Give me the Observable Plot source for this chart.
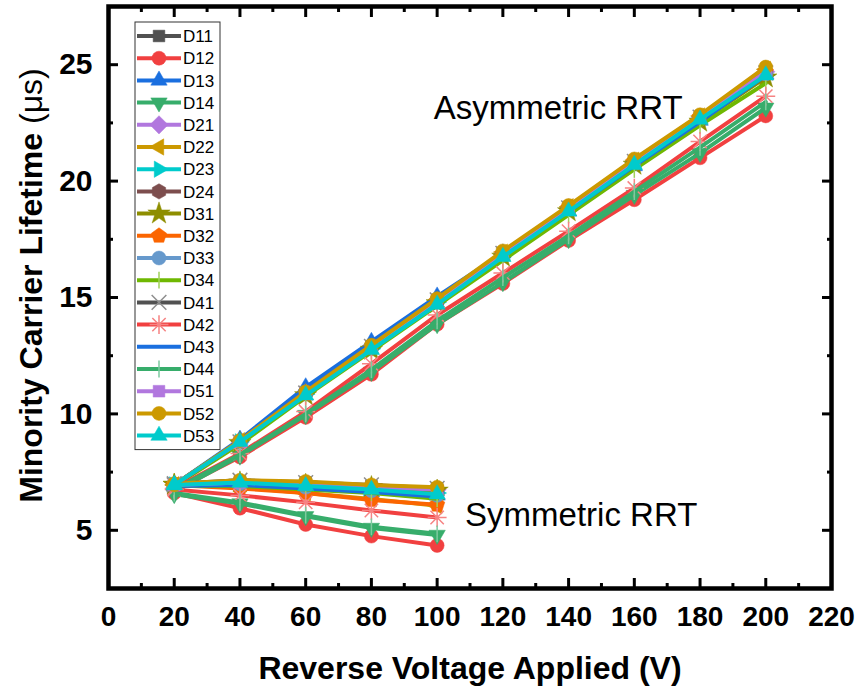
<!DOCTYPE html>
<html>
<head>
<meta charset="utf-8">
<script src="https://cdn.jsdelivr.net/npm/d3@7"></script>
<script src="https://cdn.jsdelivr.net/npm/@observablehq/plot@0.6"></script>
<style>
  body { margin: 0; background: #fff; }
  #chart svg { display: block; }
</style>
</head>
<body>
<div id="chart"></div>
<script>
// Minority carrier lifetime vs reverse voltage for 19 devices,
// measured with asymmetric (20–200 V) and symmetric (20–100 V) RRT.
const devices = ["D11","D12","D13","D14","D21","D22","D23","D24","D31","D32",
                 "D33","D34","D41","D42","D43","D44","D51","D52","D53"];
const deviceColors = ["#515151","#F14040","#1A6FDF","#37AD6B","#B177DE","#CC9900",
                      "#00CBCC","#7D4E4E","#8E8E00","#FB6501","#6699CC","#6FB802",
                      "#515151","#F14040","#1A6FDF","#37AD6B","#B177DE","#CC9900","#00CBCC"];
const deviceMarkers = ["square","circle","triangle","triangleDown","diamond","triangleLeft",
                       "triangleRight","hexagon","star","pentagon","circle","bar",
                       "times","asterisk","none","bar","square","circle","triangle"];

const voltsAsym = [20, 40, 60, 80, 100, 120, 140, 160, 180, 200];
const voltsSym = [20, 40, 60, 80, 100];

// Asymmetric RRT lifetimes (µs)
const asymD11 = [6.95, 8.80, 10.90, 12.90, 14.90, 16.90, 18.85, 20.80, 22.70, 24.60];
const asymD12 = [6.70, 8.15, 9.85, 11.70, 13.85, 15.60, 17.45, 19.20, 21.00, 22.80];
const asymD13 = [6.95, 8.90, 11.15, 13.10, 15.05, 16.90, 18.70, 20.65, 22.60, 24.60];
const asymD14 = [6.65, 8.20, 9.95, 11.80, 13.85, 15.65, 17.50, 19.40, 21.20, 23.15];
const asymD21 = [6.95, 8.80, 10.90, 12.85, 14.85, 16.85, 18.85, 20.85, 22.75, 24.70];
const asymD22 = [6.95, 8.85, 10.90, 12.90, 14.90, 16.95, 18.90, 20.90, 22.80, 24.80];
const asymD23 = [6.95, 8.80, 10.85, 12.80, 14.80, 16.80, 18.75, 20.75, 22.65, 24.55];
const asymD24 = [6.95, 8.80, 10.90, 12.85, 14.85, 16.85, 18.80, 20.80, 22.70, 24.60];
const asymD31 = [6.95, 8.75, 10.80, 12.75, 14.75, 16.75, 18.70, 20.70, 22.55, 24.45];
const asymD32 = [6.95, 8.80, 10.85, 12.85, 14.85, 16.85, 18.85, 20.85, 22.75, 24.70];
const asymD33 = [6.95, 8.80, 10.90, 12.90, 14.90, 16.85, 18.80, 20.75, 22.65, 24.60];
const asymD34 = [6.90, 8.70, 10.75, 12.70, 14.65, 16.60, 18.55, 20.50, 22.40, 24.20];
const asymD41 = [6.95, 8.80, 10.90, 12.90, 14.90, 16.90, 18.85, 20.85, 22.75, 24.65];
const asymD42 = [6.80, 8.30, 10.10, 12.15, 14.25, 16.05, 17.85, 19.70, 21.70, 23.65];
const asymD43 = [6.95, 8.85, 11.10, 13.05, 15.00, 16.85, 18.70, 20.65, 22.55, 24.55];
const asymD44 = [6.75, 8.25, 10.00, 11.90, 14.00, 15.85, 17.65, 19.55, 21.45, 23.40];
const asymD51 = [6.95, 8.80, 10.90, 12.85, 14.85, 16.85, 18.85, 20.85, 22.75, 24.70];
const asymD52 = [6.95, 8.85, 10.95, 12.95, 14.95, 17.00, 18.95, 20.95, 22.85, 24.90];
const asymD53 = [6.95, 8.80, 10.80, 12.75, 14.70, 16.75, 18.70, 20.70, 22.65, 24.55];

// Symmetric RRT lifetimes (µs)
const symD11 = [6.95, 7.10, 7.05, 6.90, 6.80];
const symD12 = [6.60, 5.95, 5.25, 4.75, 4.35];
const symD13 = [6.90, 6.95, 6.80, 6.65, 6.50];
const symD14 = [6.55, 6.15, 5.60, 5.10, 4.80];
const symD21 = [6.95, 7.05, 6.95, 6.85, 6.75];
const symD22 = [6.95, 6.85, 6.60, 6.35, 6.05];
const symD23 = [6.90, 7.00, 6.85, 6.70, 6.60];
const symD24 = [6.90, 7.05, 6.95, 6.80, 6.65];
const symD31 = [6.95, 7.05, 6.95, 6.85, 6.70];
const symD32 = [6.95, 6.80, 6.60, 6.30, 6.10];
const symD33 = [6.90, 7.00, 6.85, 6.70, 6.50];
const symD34 = [6.90, 6.90, 6.75, 6.60, 6.35];
const symD41 = [7.00, 7.15, 7.05, 6.95, 6.80];
const symD42 = [6.75, 6.50, 6.20, 5.85, 5.55];
const symD43 = [6.90, 6.95, 6.80, 6.65, 6.45];
const symD44 = [6.60, 6.20, 5.65, 5.15, 4.85];
const symD51 = [6.95, 7.05, 6.95, 6.85, 6.75];
const symD52 = [7.00, 7.15, 7.10, 6.95, 6.85];
const symD53 = [6.95, 7.05, 6.90, 6.75, 6.55];

const xMajorTicks = [0, 20, 40, 60, 80, 100, 120, 140, 160, 180, 200, 220];
const xMinorTicks = [10, 30, 50, 70, 90, 110, 130, 150, 170, 190, 210];
const yMajorTicks = [5, 10, 15, 20, 25];
const yMinorTicks = [7.5, 12.5, 17.5, 22.5];

const annotations = [
  {x: 99, y: 23.1, text: "Asymmetric RRT"},
  {x: 108.5, y: 5.62, text: "Symmetric RRT"}
];

const asymByDevice = {D11: asymD11, D12: asymD12, D13: asymD13, D14: asymD14, D21: asymD21,
  D22: asymD22, D23: asymD23, D24: asymD24, D31: asymD31, D32: asymD32, D33: asymD33,
  D34: asymD34, D41: asymD41, D42: asymD42, D43: asymD43, D44: asymD44, D51: asymD51,
  D52: asymD52, D53: asymD53};
const symByDevice = {D11: symD11, D12: symD12, D13: symD13, D14: symD14, D21: symD21,
  D22: symD22, D23: symD23, D24: symD24, D31: symD31, D32: symD32, D33: symD33,
  D34: symD34, D41: symD41, D42: symD42, D43: symD43, D44: symD44, D51: symD51,
  D52: symD52, D53: symD53};

// ---- marker shapes ----
const rOf = size => Math.sqrt(size / Math.PI);
function polygon(n, rot, scale = 1) {
  return {
    draw(ctx, size) {
      const r = rOf(size) * scale;
      for (let i = 0; i < n; ++i) {
        const a = rot + (2 * Math.PI * i) / n;
        const px = r * Math.cos(a), py = r * Math.sin(a);
        i ? ctx.lineTo(px, py) : ctx.moveTo(px, py);
      }
      ctx.closePath();
    }
  };
}
const shapes = {
  square: polygon(4, Math.PI / 4, 1.18),
  circle: d3.symbolCircle,
  triangle: polygon(3, -Math.PI / 2, 1.35),
  triangleDown: polygon(3, Math.PI / 2, 1.35),
  triangleLeft: polygon(3, Math.PI, 1.35),
  triangleRight: polygon(3, 0, 1.35),
  diamond: polygon(4, 0, 1.3),
  hexagon: polygon(6, Math.PI / 2, 1.1),
  pentagon: polygon(5, -Math.PI / 2, 1.15),
  star: d3.symbolStar,
  bar: {draw(ctx, size) { const r = rOf(size) * 1.2; ctx.moveTo(0, -r); ctx.lineTo(0, r); }},
  times: {draw(ctx, size) { const r = rOf(size) * 1.05;
    ctx.moveTo(-r, -r); ctx.lineTo(r, r); ctx.moveTo(r, -r); ctx.lineTo(-r, r); }},
  asterisk: {draw(ctx, size) { const r = rOf(size) * 1.35;
    for (let i = 0; i < 4; ++i) { const a = i * Math.PI / 4;
      ctx.moveTo(-r * Math.cos(a), -r * Math.sin(a)); ctx.lineTo(r * Math.cos(a), r * Math.sin(a)); } }}
};
const strokeOnly = new Set(["bar", "times", "asterisk"]);
const lighten = c => d3.interpolateRgb(c, "#fff")(0.35);

// ---- series marks (each device drawn in order so later ones sit on top) ----
const MARK_R = 7;
const seriesMarks = [];
devices.forEach((dev, i) => {
  const color = deviceColors[i];
  const marker = deviceMarkers[i];
  const groups = [
    voltsAsym.map((v, k) => ({v, t: asymByDevice[dev][k]})),
    voltsSym.map((v, k) => ({v, t: symByDevice[dev][k]}))
  ];
  for (const rows of groups) {
    seriesMarks.push(Plot.line(rows, {x: "v", y: "t", stroke: color, strokeWidth: 4,
      strokeLinejoin: "round"}));
    if (marker === "none") continue;
    if (strokeOnly.has(marker)) {
      seriesMarks.push(Plot.dot(rows, {x: "v", y: "t", symbol: shapes[marker], r: MARK_R,
        fill: "none", stroke: lighten(color), strokeWidth: 1.5}));
    } else {
      seriesMarks.push(Plot.dot(rows, {x: "v", y: "t", symbol: shapes[marker], r: MARK_R,
        fill: color, stroke: color, strokeWidth: 0.5}));
    }
  }
});

const FONT = "'Liberation Sans', Arial, Helvetica, sans-serif";
const tickMarkStyle = {strokeWidth: 3, tickFormat: () => "", label: null};

const plot = Plot.plot({
  width: 858,
  height: 696,
  marginLeft: 108,
  marginRight: 27,
  marginTop: 6,
  marginBottom: 108,
  style: {fontFamily: FONT, background: "#fff", color: "#000", overflow: "visible"},
  x: {domain: [0, 220]},
  y: {domain: [2.5, 27.5]},
  marks: [
    ...seriesMarks,
    Plot.text(annotations, {x: "x", y: "y", text: "text", textAnchor: "start",
      fontSize: 33, fill: "#000"}),
    // inward major/minor ticks on all four sides
    Plot.axisX(xMajorTicks, {anchor: "bottom", tickSize: -10, ...tickMarkStyle}),
    Plot.axisX(xMinorTicks, {anchor: "bottom", tickSize: -5, ...tickMarkStyle}),
    Plot.axisX(xMajorTicks, {anchor: "top", tickSize: -10, ...tickMarkStyle}),
    Plot.axisX(xMinorTicks, {anchor: "top", tickSize: -5, ...tickMarkStyle}),
    Plot.axisY(yMajorTicks, {anchor: "left", tickSize: -10, ...tickMarkStyle}),
    Plot.axisY(yMinorTicks, {anchor: "left", tickSize: -5, ...tickMarkStyle}),
    Plot.axisY(yMajorTicks, {anchor: "right", tickSize: -10, ...tickMarkStyle}),
    Plot.axisY(yMinorTicks, {anchor: "right", tickSize: -5, ...tickMarkStyle}),
    // tick labels
    Plot.axisX(xMajorTicks, {anchor: "bottom", tickSize: 0, tickPadding: 18, fontSize: 28,
      fontWeight: "bold", label: null, fill: "#000"}),
    Plot.axisY(yMajorTicks, {anchor: "left", tickSize: 0, tickPadding: 16, fontSize: 30,
      fontWeight: "bold", label: null, fill: "#000"}),
    Plot.frame({stroke: "#000", strokeWidth: 4.5}),
    // axis titles
    Plot.text(["Reverse Voltage Applied (V)"], {frameAnchor: "bottom", dy: 80,
      textAnchor: "middle", lineAnchor: "middle", fontSize: 32, fontWeight: "bold", fill: "#000"}),
    Plot.text(["Minority Carrier Lifetime (μs)"], {frameAnchor: "left", dx: -77, dy: -12,
      textAnchor: "middle", lineAnchor: "middle", rotate: -90, fontSize: 32,
      fontWeight: "bold", fill: "#000"})
  ]
});

// "(μs)" is set in regular weight
d3.select(plot).selectAll("text").filter(function () {
  return this.textContent === "Minority Carrier Lifetime (μs)";
}).each(function () {
  const t = d3.select(this);
  t.text(null);
  t.append("tspan").text("Minority Carrier Lifetime ");
  t.append("tspan").attr("font-weight", "normal").text("(μs)");
});

// ---- legend box inside the plot area ----
const legend = d3.select(plot).append("g").attr("font-family", FONT).attr("text-anchor", "start");
const LX = 135, LY = 22, ROW = 22.2;
legend.append("rect").attr("x", LX).attr("y", LY).attr("width", 85)
  .attr("height", 14 + ROW * (devices.length - 1) + 14)
  .attr("fill", "#fff").attr("stroke", "#333").attr("stroke-width", 1);
devices.forEach((dev, i) => {
  const cy = LY + 14 + i * ROW;
  const color = deviceColors[i];
  const marker = deviceMarkers[i];
  const g = legend.append("g");
  g.append("line").attr("x1", LX + 2).attr("x2", LX + 46).attr("y1", cy).attr("y2", cy)
    .attr("stroke", color).attr("stroke-width", 4);
  if (marker !== "none") {
    const path = d3.symbol(shapes[marker], Math.PI * MARK_R * MARK_R)();
    const p = g.append("path").attr("d", path).attr("transform", `translate(${LX + 24},${cy})`);
    if (strokeOnly.has(marker)) p.attr("fill", "none").attr("stroke", lighten(color)).attr("stroke-width", 1.5);
    else p.attr("fill", color).attr("stroke", color).attr("stroke-width", 0.5);
  }
  g.append("text").attr("x", LX + 48).attr("y", cy).attr("dy", "0.36em")
    .attr("text-anchor", "start").attr("font-size", 17).attr("fill", "#000").text(dev);
});

document.getElementById("chart").append(plot);
</script>
</body>
</html>
